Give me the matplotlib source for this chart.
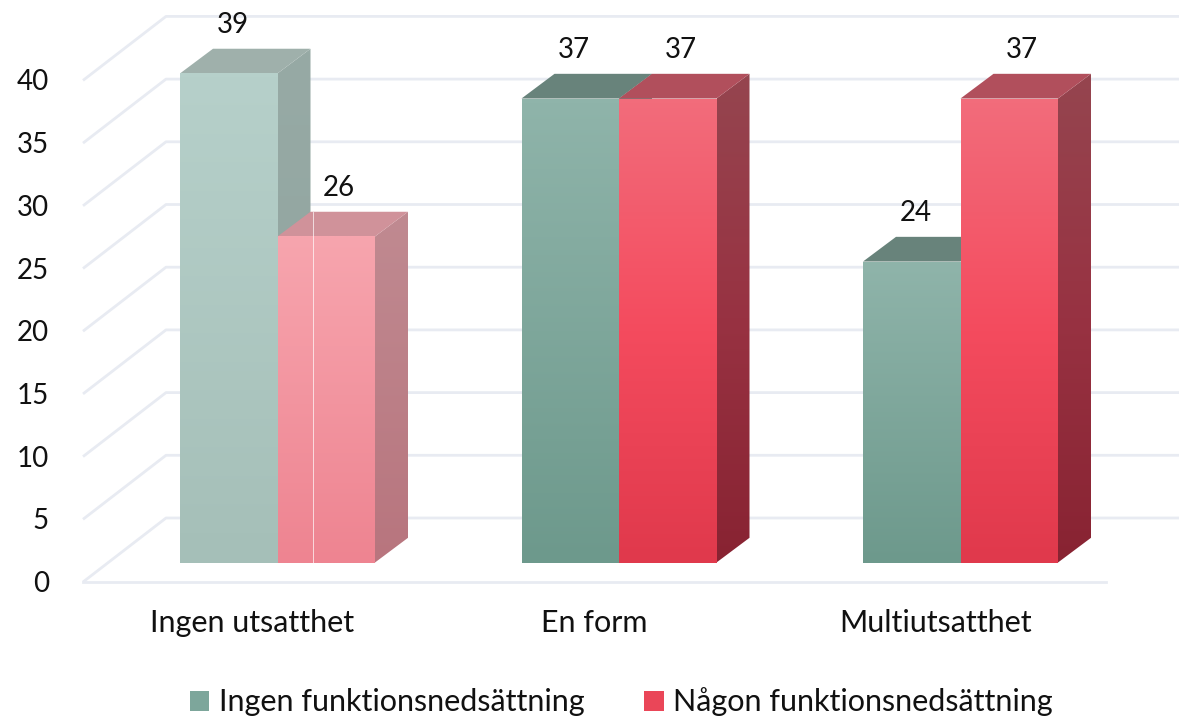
import matplotlib
matplotlib.use('Agg')
import matplotlib.pyplot as plt
import numpy as np
from matplotlib.colors import LinearSegmentedColormap
from matplotlib.patches import Patch, Polygon

categories = ['Ingen utsatthet', 'En form', 'Multiutsatthet']
series_names = ['Ingen funktionsnedsättning', 'Någon funktionsnedsättning']
ingen = [39, 37, 24]
nagon = [26, 37, 37]
y_ticks = [0, 5, 10, 15, 20, 25, 30, 35, 40]

plt.rcParams['font.family'] = ['Lato', 'DejaVu Sans']

# one category step and one value unit, measured in pixels
XS = 341.5
YS = 12.54
W = 1179
H = 718
X0 = 277.5
Y0 = 562.5

BAR_W = 97.5 / XS
DX = 33 / XS
DY = 24.7 / YS
GRID_DROP = 19.5 / YS
GRID_DX = 83 / XS
GRID_DY = 64 / YS

# colour stops down each face: front, side, then the roof
GREEN = (('#8fb4aa', '#6d998c'), ('#6d8a83', '#5f7d74'), '#68837b')
RED = (('#f26c7b', '#f44b5e', '#e0394c'), ('#95454f', '#983242', '#882332'), '#b14f5c')
GREEN_LIGHT = (('#b6d0ca', '#a5bfb8'), ('#97aaa5', '#8fa39e'), '#9fb0ab')
RED_LIGHT = (('#f7a5ae', '#ee8491'), ('#c08a91', '#b8757e'), '#d0929a')
GRID_COLOR = '#e8ebf2'
TEXT_COLOR = '#111111'


def face(ax, corners, stops):
    xs = [c[0] for c in corners]
    ys = [c[1] for c in corners]
    cmap = LinearSegmentedColormap.from_list('f', stops)
    im = ax.imshow(np.linspace(0, 1, 128).reshape(-1, 1), cmap=cmap, aspect='auto',
                   extent=(min(xs), max(xs), min(ys), max(ys)), zorder=3,
                   interpolation='bilinear')
    poly = Polygon(corners, closed=True, transform=ax.transData, fill=False, edgecolor='none')
    ax.add_patch(poly)
    im.set_clip_path(poly)


def bar3d(ax, left, value, colors):
    front, side, roof = colors
    right = left + BAR_W
    face(ax, [(right, 0), (right + DX, DY), (right + DX, value + DY), (right, value)], side)
    ax.add_patch(Polygon([(left, value), (right, value), (right + DX, value + DY), (left + DX, value + DY)],
                         closed=True, facecolor=roof, edgecolor='none', zorder=3))
    face(ax, [(left, 0), (right, 0), (right, value), (left, value)], front)


fig = plt.figure(figsize=(W / 100, H / 100), dpi=100)
ax = fig.add_axes([0, 0, 1, 1])

grid_left = (83 - X0) / XS
grid_right = (W - X0) / XS
floor_right = (1106 - X0) / XS
for v in y_ticks:
    ax.plot([grid_left, grid_left + GRID_DX, grid_right],
            [v - GRID_DROP, v - GRID_DROP + GRID_DY, v - GRID_DROP + GRID_DY],
            color=GRID_COLOR, lw=2, zorder=1, solid_capstyle='butt')
    ax.text((49 - X0) / XS, v - GRID_DROP - 2 / YS, str(v), ha='right', va='center',
            fontsize=20, color=TEXT_COLOR)
ax.plot([grid_left, floor_right], [-GRID_DROP, -GRID_DROP], color=GRID_COLOR, lw=2, zorder=1)

for i, cat in enumerate(categories):
    green = GREEN_LIGHT if i == 0 else GREEN
    red = RED_LIGHT if i == 0 else RED
    bar3d(ax, i - BAR_W, ingen[i], green)
    bar3d(ax, i, nagon[i], red)
    ax.text(i - BAR_W / 2 + 0.012, ingen[i] + 3.85, str(ingen[i]), ha='center', va='center',
            fontsize=20, color=TEXT_COLOR, zorder=5)
    ax.text(i + BAR_W / 2 + 0.038, nagon[i] + 3.85, str(nagon[i]), ha='center', va='center',
            fontsize=20, color=TEXT_COLOR, zorder=5)
    ax.text(i - 25 / XS, -4.85, cat, ha='center', va='center', fontsize=22, color=TEXT_COLOR)

# the thin white seam in the first red bar
seam = 35 / XS
ax.plot([seam, seam], [0, nagon[0] + DY], color='white', lw=0.6, alpha=0.8, zorder=4)

handles = [Patch(facecolor='#7da69b', label=series_names[0]),
           Patch(facecolor='#ea4658', label=series_names[1])]
leg = ax.legend(handles=handles, loc='center', bbox_to_anchor=(621 / W, 1 - 702 / H), ncol=2,
                frameon=False, fontsize=22, handlelength=0.65, handleheight=0.65,
                handletextpad=0.3, columnspacing=1.95, labelcolor=TEXT_COLOR)

ax.set_xlim(-X0 / XS, (W - X0) / XS)
ax.set_ylim((Y0 - H) / YS, Y0 / YS)
ax.axis('off')
fig.savefig('out.png', dpi=100, facecolor='white')
